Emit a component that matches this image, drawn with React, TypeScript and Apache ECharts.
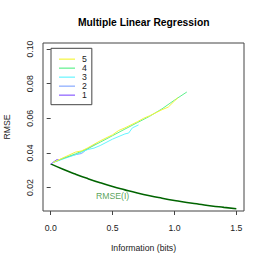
import React, { useEffect, useRef } from "react";
import * as echarts from "echarts";

const xTicks = [0, 0.5, 1.0, 1.5];
const yTicks = [0.02, 0.04, 0.06, 0.08, 0.1];

const rmseIX = [0, 0.1, 0.2, 0.3, 0.4, 0.5, 0.6, 0.7, 0.8, 0.9, 1.0, 1.1, 1.2, 1.3, 1.4, 1.5];
const rmseIY = [0.0337, 0.0306, 0.0278, 0.0252, 0.0228, 0.0206, 0.0187, 0.0169, 0.0153, 0.0139, 0.0126, 0.0114, 0.0104, 0.0094, 0.0086, 0.0078];

const line1X = [0.0, 0.03, 0.05, 0.07];
const line1Y = [0.0335, 0.0352, 0.0362, 0.0358];
const line2X = [0.02, 0.1, 0.2, 0.25, 0.3, 0.37];
const line2Y = [0.0345, 0.037, 0.039, 0.0397, 0.0425, 0.0455];
const line3X = [0.02, 0.1, 0.2, 0.3, 0.35, 0.4, 0.5, 0.6, 0.63, 0.66, 0.71];
const line3Y = [0.0345, 0.0365, 0.039, 0.042, 0.0428, 0.0443, 0.048, 0.051, 0.0515, 0.0545, 0.0562];
const line4X = [0.02, 0.1, 0.2, 0.3, 0.4, 0.5, 0.6, 0.7, 0.8, 0.9, 1.0, 1.1];
const line4Y = [0.0345, 0.0368, 0.0395, 0.0425, 0.0462, 0.05, 0.0538, 0.0575, 0.0612, 0.0655, 0.0705, 0.0752];
const line5X = [0.02, 0.1, 0.2, 0.25, 0.3, 0.4, 0.5, 0.55, 0.6, 0.7, 0.75, 0.8, 0.9, 0.95, 1.0, 1.03];
const line5Y = [0.0345, 0.0372, 0.0405, 0.0412, 0.043, 0.047, 0.0505, 0.053, 0.0545, 0.058, 0.06, 0.0615, 0.065, 0.0665, 0.07, 0.072];

const seriesNames = ["1", "2", "3", "4", "5"];
const legendOrder = ["5", "4", "3", "2", "1"];
const seriesColors = ["#8a5cff", "#86a8ff", "#66f5ff", "#5ef08c", "#f5f53c"];
const seriesX = [line1X, line2X, line3X, line4X, line5X];
const seriesY = [line1Y, line2Y, line3Y, line4Y, line5Y];

const labelX = 0.5;
const labelY = 0.0152;
const labelText = "RMSE(I)";

const FONT = "Liberation Sans, Arial, Helvetica, sans-serif";

export default function App() {
  const ref = useRef<HTMLDivElement>(null);
  useEffect(() => {
    if (!ref.current) return;
    const chart = echarts.init(ref.current, undefined, { renderer: "svg" });
    const zip = (xs: number[], ys: number[]) => xs.map((x, i) => [x, ys[i]]);
    const lineSeries = seriesNames.map((n, i) => ({
      name: n,
      type: "line",
      data: zip(seriesX[i], seriesY[i]),
      symbol: "none",
      lineStyle: { color: seriesColors[i], width: 1 },
      itemStyle: { color: seriesColors[i] },
      z: 3 + i,
    }));
    chart.setOption({
      animation: false,
      backgroundColor: "#fff",
      textStyle: { fontFamily: FONT },
      title: {
        text: "Multiple Linear Regression",
        left: 143.7,
        top: 17,
        textAlign: "center",
        padding: 0,
        textStyle: { fontSize: 10.3, fontWeight: "bold", color: "#000", fontFamily: FONT },
      },
      grid: {
        left: 43, top: 43, right: 22, bottom: 55,
        outerBoundsMode: "none",
        containLabel: false,
        show: true, borderColor: "#444", borderWidth: 1, backgroundColor: "transparent",
      },
      legend: {
        data: legendOrder,
        orient: "vertical",
        left: 51,
        top: 48.3,
        padding: [6.2, 5, 5.2, 8],
        itemWidth: 16,
        itemHeight: 7.5,
        itemGap: 0,
        icon: "path://M0,0 L0,0 M0,3.3 L16,3.3 L16,4.5 L0,4.5 Z M16,7.5 L16,7.5",
        borderColor: "#444",
        borderWidth: 1,
        borderRadius: 0,
        textStyle: { fontSize: 8.7, lineHeight: 7.5, color: "#222", fontFamily: FONT, padding: [0, 0, 0, 2] },
      },
      xAxis: {
        type: "value",
        min: -0.062,
        max: 1.562,
        name: "Information (bits)",
        nameLocation: "middle",
        nameGap: 32,
        nameTextStyle: { fontSize: 8.7, color: "#222", fontFamily: FONT },
        axisLine: { show: false },
        splitLine: { show: false },
        axisTick: { show: true, inside: false, length: 4, customValues: xTicks, lineStyle: { color: "#444" } },
        axisLabel: { customValues: xTicks, margin: 12, fontSize: 8.7, color: "#222", fontFamily: FONT, formatter: (v: number) => v.toFixed(1) },
      },
      yAxis: {
        type: "value",
        min: 0.0065,
        max: 0.1035,
        name: "RMSE",
        nameLocation: "middle",
        nameGap: 32,
        nameTextStyle: { fontSize: 8.7, color: "#222", fontFamily: FONT },
        axisLine: { show: false },
        splitLine: { show: false },
        axisTick: { show: true, inside: false, length: 4, customValues: yTicks, lineStyle: { color: "#444" } },
        axisLabel: { customValues: yTicks, margin: 9, rotate: 90, fontSize: 8.7, color: "#222", fontFamily: FONT, formatter: (v: number) => v.toFixed(2) },
      },
      series: [
        {
          name: "RMSE(I)",
          type: "line",
          data: zip(rmseIX, rmseIY),
          symbol: "none",
          smooth: true,
          lineStyle: { color: "#006400", width: 1.6 },
          z: 2,
        },
        ...lineSeries,
        {
          name: "label",
          type: "scatter",
          data: [[labelX, labelY]],
          symbolSize: 0,
          silent: true,
          label: { show: true, position: "inside", formatter: labelText, fontSize: 8.7, color: "#2e8b2e", fontFamily: FONT },
        },
      ],
    });
    return () => chart.dispose();
  }, []);
  return <div ref={ref} style={{ position: "fixed", left: 0, top: 0, width: 266, height: 266 }} />;
}
